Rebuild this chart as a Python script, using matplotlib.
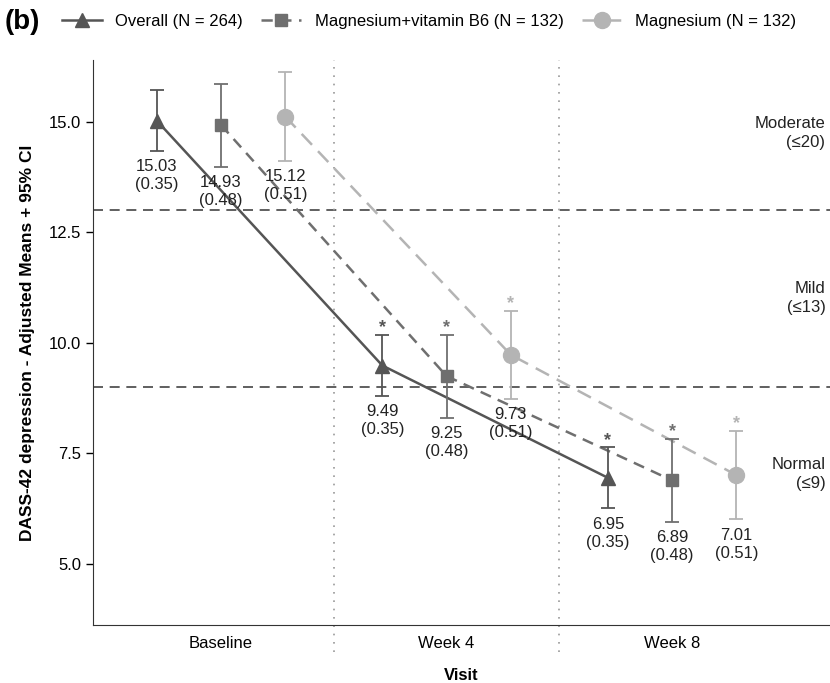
import numpy as np
import matplotlib.pyplot as plt
from matplotlib.lines import Line2D

plt.rcParams['font.family'] = ['Liberation Sans', 'DejaVu Sans']

# data
visits = ["Baseline", "Week 4", "Week 8"]

overall_mean = [15.03, 9.49, 6.95]
overall_se = [0.35, 0.35, 0.35]
overall_lo = [14.34, 8.80, 6.26]
overall_hi = [15.72, 10.18, 7.64]

mgb6_mean = [14.93, 9.25, 6.89]
mgb6_se = [0.48, 0.48, 0.48]
mgb6_lo = [13.99, 8.31, 5.95]
mgb6_hi = [15.87, 10.19, 7.83]

mg_mean = [15.12, 9.73, 7.01]
mg_se = [0.51, 0.51, 0.51]
mg_lo = [14.12, 8.73, 6.01]
mg_hi = [16.12, 10.73, 8.01]

signif = [False, True, True]

cutoffs = [13, 9]
zones = ["Moderate\n(\u226420)", "Mild\n(\u226413)", "Normal\n(\u22649)"]
zone_y = [14.75, 11.02, 7.04]

series = [
    ("Overall (N = 264)", overall_mean, overall_se, overall_lo, overall_hi,
     '#555555', '-', '^', 9.5, -0.285),
    ("Magnesium+vitamin B6 (N = 132)", mgb6_mean, mgb6_se, mgb6_lo, mgb6_hi,
     '#6f6f6f', (0, (4.5, 3)), 's', 8.5, 0.0),
    ("Magnesium (N = 132)", mg_mean, mg_se, mg_lo, mg_hi,
     '#b4b4b4', (0, (6, 3.5)), 'o', 11.5, 0.285),
]

fig = plt.figure(figsize=(8.3, 6.83), dpi=100)
ax = fig.add_axes([0.112, 0.085, 0.888, 0.827])

x = np.arange(len(visits))

# cut-off lines
for c in cutoffs:
    ax.axhline(c, color='#444444', lw=1.2, ls=(0, (6, 4)), zorder=1)

# separators between visits
for sx in [0.5, 1.5]:
    ax.plot([sx, sx], [3.0, 16.4], color='#999999', lw=1.2, ls=(0, (1, 4)),
            clip_on=False, zorder=1)

handles = []
for label, mean, se, lo, hi, col, ls, mk, ms, off in series:
    xs = x + off
    mean = np.array(mean)
    err = [mean - np.array(lo), np.array(hi) - mean]
    ax.plot(xs, mean, color=col, ls=ls, lw=1.8, zorder=2)
    ax.errorbar(xs, mean, yerr=err, fmt='none', ecolor=col, elinewidth=1.3,
                capsize=5, capthick=1.3, zorder=3)
    ax.plot(xs, mean, ls='none', marker=mk, ms=ms, color=col, zorder=4)
    for i in range(len(xs)):
        ax.annotate(f"{mean[i]:.2f}\n({se[i]:.2f})", (xs[i], lo[i]),
                    xytext=(0, -6), textcoords='offset points',
                    ha='center', va='top', fontsize=12, linespacing=1.25,
                    color='#222222')
        if signif[i]:
            ax.annotate("*", (xs[i], hi[i]), xytext=(0, -1),
                        textcoords='offset points', ha='center', va='bottom',
                        fontsize=13, color=col, fontweight='bold')
    handles.append(Line2D([0], [0], color=col, ls=ls, lw=1.8, marker=mk,
                          ms=ms, label=label))

for txt, zy in zip(zones, zone_y):
    ax.text(2.68, zy, txt, ha='right', va='center', fontsize=12,
            multialignment='right', linespacing=1.35, color='#222222')

ax.set_xlim(-0.568, 2.70)
ax.set_ylim(3.62, 16.4)
ax.set_xticks(x)
ax.set_xticklabels(visits, fontsize=12)
ax.set_yticks([5.0, 7.5, 10.0, 12.5, 15.0])
ax.set_yticklabels(["5.0", "7.5", "10.0", "12.5", "15.0"], fontsize=12)
ax.tick_params(axis='x', length=0, pad=8)
ax.tick_params(axis='y', length=5, width=1)
ax.spines['top'].set_visible(False)
ax.spines['right'].set_visible(False)
ax.spines['left'].set_color('#333333')
ax.spines['bottom'].set_color('#333333')
ax.set_xlabel("Visit", fontsize=12, fontweight='bold', labelpad=12)
ax.set_ylabel("DASS-42 depression - Adjusted Means + 95% CI", fontsize=12.5,
              fontweight='bold', labelpad=10)

fig.text(0.006, 0.968, "(b)", fontsize=20, fontweight='bold', va='center')
fig.legend(handles=handles, loc='center', bbox_to_anchor=(0.517, 0.969),
           ncol=3, frameon=False, fontsize=12, handlelength=2.4,
           columnspacing=1.1, handletextpad=0.8)

plt.savefig("out.png", dpi=100)
